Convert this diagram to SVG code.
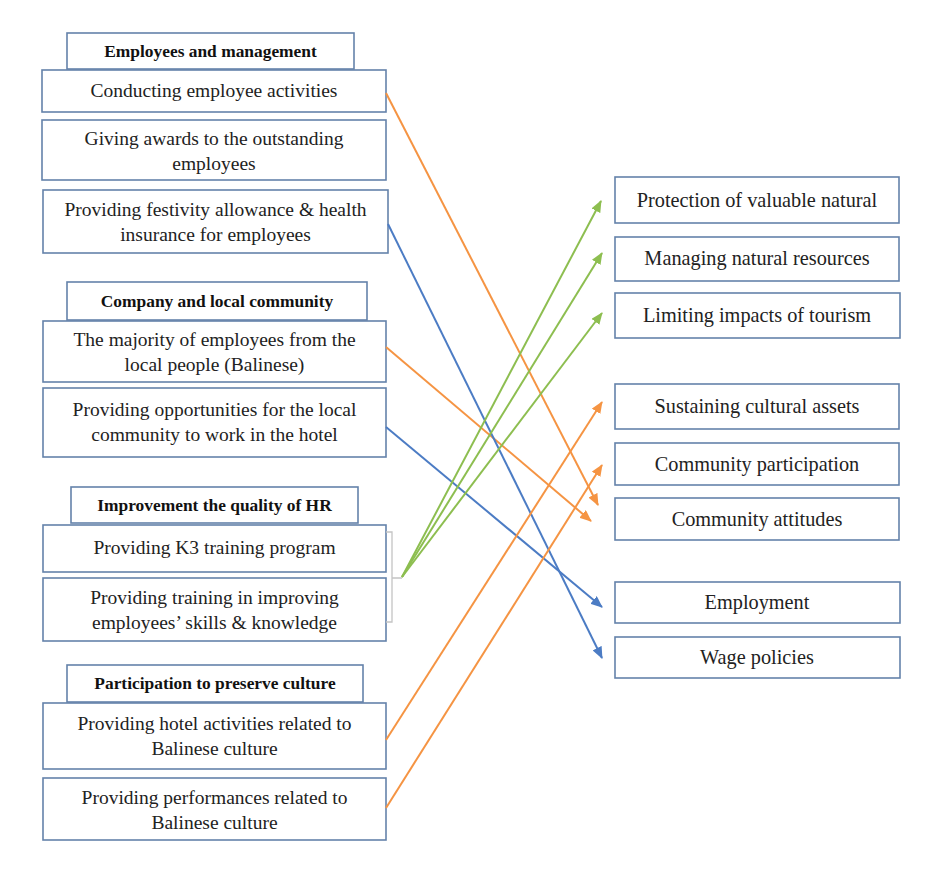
<svg xmlns="http://www.w3.org/2000/svg" width="938" height="871" viewBox="0 0 938 871">
<style>
.box{fill:#fff;stroke:#6482AA;stroke-width:1.6}
.t{font-family:"Liberation Serif","Times New Roman",serif;font-size:19.5px;fill:#222;text-anchor:middle}
.r{font-size:20.3px}
.h{font-family:"Liberation Serif","Times New Roman",serif;font-size:17.4px;font-weight:bold;fill:#111;text-anchor:middle}
.or{stroke:#F59443;stroke-width:2;fill:none}
.bl{stroke:#4C7CC4;stroke-width:2;fill:none}
.gr{stroke:#8DBE50;stroke-width:2;fill:none}
.br{stroke:#C4C4C4;stroke-width:1.3;fill:none}
</style>
<defs>
<marker id="ao" markerWidth="12" markerHeight="10" refX="11" refY="5" orient="auto" markerUnits="userSpaceOnUse"><path d="M0,0 L12,5 L0,10 Z" fill="#F59443"/></marker>
<marker id="ab" markerWidth="12" markerHeight="10" refX="11" refY="5" orient="auto" markerUnits="userSpaceOnUse"><path d="M0,0 L12,5 L0,10 Z" fill="#4C7CC4"/></marker>
<marker id="ag" markerWidth="12" markerHeight="10" refX="11" refY="5" orient="auto" markerUnits="userSpaceOnUse"><path d="M0,0 L12,5 L0,10 Z" fill="#8DBE50"/></marker>
</defs>
<rect width="938" height="871" fill="#fff"/>

<g id="h1"><rect class="box" x="67" y="33" width="287" height="36"/><text class="h" x="210.5" y="57">Employees and management</text></g>
<g id="l1"><rect class="box" x="42" y="70" width="344" height="42"/><text class="t" x="214" y="97">Conducting employee activities</text></g>
<g id="l2"><rect class="box" x="42" y="120" width="344" height="60"/><text class="t" x="214" y="145">Giving awards to the outstanding</text><text class="t" x="214" y="170">employees</text></g>
<g id="l3"><rect class="box" x="43" y="190" width="345" height="63"/><text class="t" x="215.5" y="216">Providing festivity allowance &amp; health</text><text class="t" x="215.5" y="241">insurance for employees</text></g>

<g id="h2"><rect class="box" x="67" y="282" width="300" height="38"/><text class="h" x="217" y="307">Company and local community</text></g>
<g id="l4"><rect class="box" x="43" y="321" width="343" height="61"/><text class="t" x="214.5" y="346">The majority of employees from the</text><text class="t" x="214.5" y="371">local people (Balinese)</text></g>
<g id="l5"><rect class="box" x="43" y="388" width="343" height="69"/><text class="t" x="214.5" y="416">Providing opportunities for the local</text><text class="t" x="214.5" y="441">community to work in the hotel</text></g>

<g id="h3"><rect class="box" x="71" y="487" width="287" height="36"/><text class="h" x="214.5" y="511">Improvement the quality of HR</text></g>
<g id="l6"><rect class="box" x="43" y="525" width="343" height="47"/><text class="t" x="214.5" y="554">Providing K3 training program</text></g>
<g id="l7"><rect class="box" x="43" y="578" width="343" height="63"/><text class="t" x="214.5" y="604">Providing training in improving</text><text class="t" x="214.5" y="629">employees’ skills &amp; knowledge</text></g>

<g id="h4"><rect class="box" x="67" y="665" width="296" height="37"/><text class="h" x="215" y="689">Participation to preserve culture</text></g>
<g id="l8"><rect class="box" x="43" y="703" width="343" height="66"/><text class="t" x="214.5" y="730">Providing hotel activities related to</text><text class="t" x="214.5" y="755">Balinese culture</text></g>
<g id="l9"><rect class="box" x="43" y="778" width="343" height="62"/><text class="t" x="214.5" y="804">Providing performances related to</text><text class="t" x="214.5" y="829">Balinese culture</text></g>

<g id="r1"><rect class="box" x="615" y="177" width="284" height="46"/><text class="t r" x="757" y="207">Protection of valuable natural</text></g>
<g id="r2"><rect class="box" x="615" y="237" width="284" height="44"/><text class="t r" x="757" y="265">Managing natural resources</text></g>
<g id="r3"><rect class="box" x="615" y="293" width="285" height="45"/><text class="t r" x="757" y="322">Limiting impacts of tourism</text></g>
<g id="r4"><rect class="box" x="615" y="384" width="284" height="45"/><text class="t r" x="757" y="413">Sustaining cultural assets</text></g>
<g id="r5"><rect class="box" x="615" y="443" width="284" height="42"/><text class="t r" x="757" y="471">Community participation</text></g>
<g id="r6"><rect class="box" x="615" y="498" width="284" height="42"/><text class="t r" x="757" y="526">Community attitudes</text></g>
<g id="r7"><rect class="box" x="615" y="582" width="285" height="41"/><text class="t r" x="757" y="609">Employment</text></g>
<g id="r8"><rect class="box" x="615" y="637" width="285" height="41"/><text class="t r" x="757" y="664">Wage policies</text></g>

<g id="connectors">
<path class="br" d="M386,532 H392 V622 H386 M392,578 H402"/>
<line class="or" x1="386" y1="93" x2="598" y2="505" marker-end="url(#ao)"/>
<line class="or" x1="386" y1="347" x2="591" y2="521" marker-end="url(#ao)"/>
<line class="bl" x1="388" y1="224" x2="602" y2="658" marker-end="url(#ab)"/>
<line class="bl" x1="386" y1="427" x2="602" y2="607" marker-end="url(#ab)"/>
<line class="gr" x1="402" y1="577" x2="601" y2="201" marker-end="url(#ag)"/>
<line class="gr" x1="402" y1="577" x2="602" y2="253" marker-end="url(#ag)"/>
<line class="gr" x1="402" y1="577" x2="602" y2="313" marker-end="url(#ag)"/>
<line class="or" x1="386" y1="740" x2="602" y2="402" marker-end="url(#ao)"/>
<line class="or" x1="386" y1="808" x2="602" y2="465" marker-end="url(#ao)"/>
</g>
</svg>
